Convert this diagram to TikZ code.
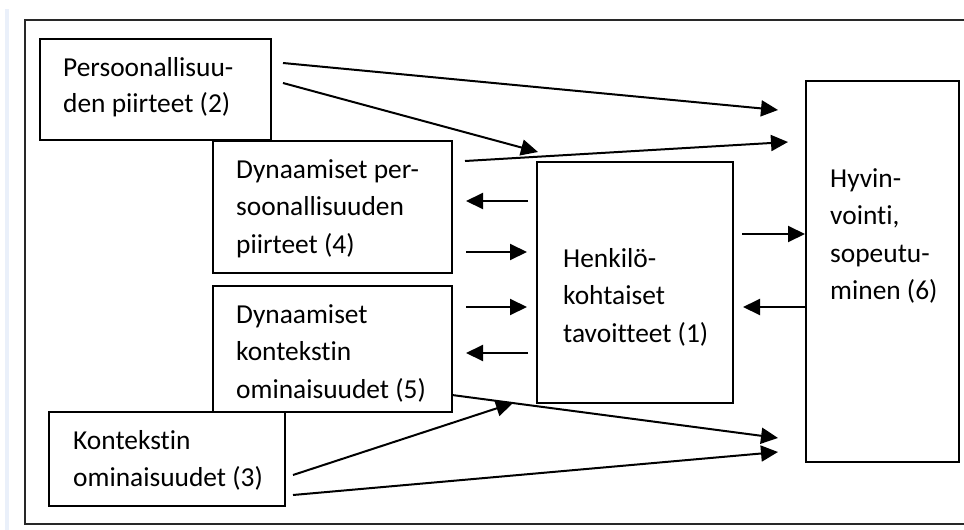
\documentclass[tikz,border=0pt]{standalone}
\usepackage{fontspec}
\setmainfont{Carlito}[Ligatures=NoCommon]
\usetikzlibrary{arrows.meta}
\begin{document}
\begin{tikzpicture}[x=1pt,y=-1pt,
  box/.style={draw=black, line width=2pt, inner sep=0pt},
  lbl/.style={anchor=base west, inner sep=0pt, align=flush left, text width=220pt,
    font=\fontsize{27.4}{37.5}\selectfont},
  arr/.style={line width=2pt, -{Triangle[length=17pt,width=16pt]}}]
\useasboundingbox (0,0) rectangle (964,530);
\fill[fill={rgb,255:red,234;green,240;blue,250}] (5,9) rectangle (9,530);
\draw[line width=1.3pt, draw={rgb,255:red,40;green,40;blue,40}] (970,20) -- (25,20) -- (25,524) -- (970,524);
% boxes
\node[box, minimum width=231pt, minimum height=101pt] (b2) at (155.5,89.5) {};
\node[box, minimum width=239pt, minimum height=132pt] (b4) at (332.5,207) {};
\node[box, minimum width=239pt, minimum height=126pt] (b5) at (332.5,349) {};
\node[box, minimum width=236pt, minimum height=94pt] (b3) at (167,459) {};
\node[box, minimum width=196pt, minimum height=241pt] (b1) at (635,282.5) {};
\node[box, minimum width=153pt, minimum height=381pt] (b6) at (882.5,271.5) {};
% labels
\node[lbl, font=\fontsize{27.4}{36}\selectfont] (t2) at (63,76) {Persoonallisuu-\\den piirteet (2)};
\node[lbl] (t4) at (236,178) {Dynaamiset per-\\soonallisuuden\\piirteet (4)};
\node[lbl] (t5) at (236,323) {Dynaamiset\\kontekstin\\ominaisuudet (5)};
\node[lbl] (t3) at (73,449) {Kontekstin\\ominaisuudet (3)};
\node[lbl] (t1) at (563,267) {Henkilö-\\kohtaiset\\tavoitteet (1)};
\node[lbl] (t6) at (830,187) {Hyvin-\\vointi,\\sopeutu-\\minen (6)};
% connector end points
\coordinate (a1s) at (283,63);  \coordinate (a1e) at (778,110);
\coordinate (a2s) at (283,83);  \coordinate (a2e) at (538,152);
\coordinate (a3s) at (465,161); \coordinate (a3e) at (788,142);
\coordinate (a4s) at (528,201); \coordinate (a4e) at (466,201);
\coordinate (a5s) at (466,252); \coordinate (a5e) at (527,252);
\coordinate (a6s) at (466,307); \coordinate (a6e) at (527,307);
\coordinate (a7s) at (528,353); \coordinate (a7e) at (466,353);
\coordinate (a8s) at (742,234); \coordinate (a8e) at (805,234);
\coordinate (a9s) at (805,307); \coordinate (a9e) at (743,307);
\coordinate (a10s) at (452,395); \coordinate (a10e) at (778,438);
\coordinate (a11s) at (293,475); \coordinate (a11e) at (513,403);
\coordinate (a12s) at (293,495); \coordinate (a12e) at (778,452);
% connectors
\draw[arr] (a1s) -- (a1e);
\draw[arr] (a2s) -- (a2e);
\draw[arr] (a3s) -- (a3e);
\draw[arr] (a4s) -- (a4e);
\draw[arr] (a5s) -- (a5e);
\draw[arr] (a6s) -- (a6e);
\draw[arr] (a7s) -- (a7e);
\draw[arr] (a8s) -- (a8e);
\draw[arr] (a9s) -- (a9e);
\draw[arr] (a10s) -- (a10e);
\draw[arr] (a11s) -- (a11e);
\draw[arr] (a12s) -- (a12e);
\end{tikzpicture}
\end{document}
